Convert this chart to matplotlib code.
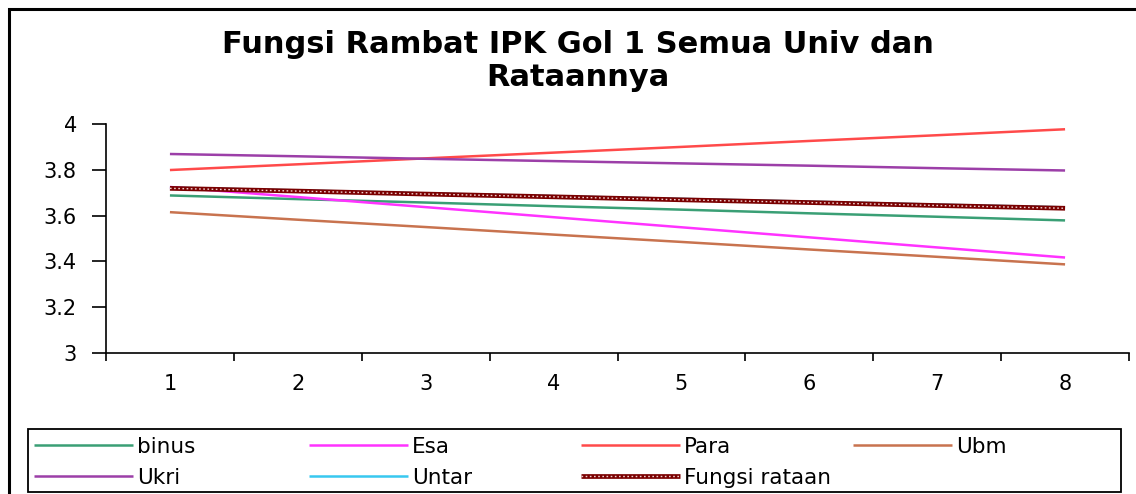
import matplotlib
matplotlib.use("Agg")
import matplotlib.pyplot as plt
from matplotlib.patches import Rectangle
from matplotlib.legend_handler import HandlerTuple

plt.rcParams['font.family'] = ['DejaVu Sans']

x = [1, 2, 3, 4, 5, 6, 7, 8]
binus = [3.688, 3.672, 3.657, 3.641, 3.626, 3.610, 3.595, 3.579]
esa = [3.725, 3.681, 3.637, 3.593, 3.549, 3.505, 3.461, 3.417]
para = [3.799, 3.824, 3.850, 3.875, 3.900, 3.926, 3.951, 3.977]
ubm = [3.615, 3.582, 3.550, 3.517, 3.485, 3.452, 3.420, 3.387]
ukri = [3.869, 3.859, 3.848, 3.838, 3.828, 3.818, 3.807, 3.797]
untar = [3.722, 3.710, 3.697, 3.685, 3.673, 3.661, 3.648, 3.636]
rataan = [3.719, 3.707, 3.694, 3.682, 3.669, 3.657, 3.644, 3.632]
yticks = [3, 3.2, 3.4, 3.6, 3.8, 4]
ytick_labels = ["3", "3.2", "3.4", "3.6", "3.8", "4"]
title = "Fungsi Rambat IPK Gol 1 Semua Univ dan\nRataannya"

W, H = 1136, 494
fig = plt.figure(figsize=(W / 100, H / 100), dpi=100)
ax = fig.add_axes([106 / W, 1 - 353 / H, (1129 - 106) / W, (353 - 124) / H])

colors = {"binus": "#3a9f75", "Esa": "#ff33ff", "Para": "#ff4a4a",
          "Ubm": "#c8734f", "Ukri": "#9c3fa8", "Untar": "#38c8f0"}
data = {"binus": binus, "Esa": esa, "Para": para, "Ubm": ubm,
        "Ukri": ukri, "Untar": untar}
handles = {}
for name in ["Untar", "binus", "Esa", "Para", "Ubm", "Ukri"]:
    ln, = ax.plot(x, data[name], color=colors[name], lw=1.8, solid_capstyle='butt')
    handles[name] = ln

r1, = ax.plot(x, rataan, color="#7a0000", lw=3.4, solid_capstyle='butt')
r2, = ax.plot(x, rataan, color="#f0d0d0", lw=1.0, linestyle=(0, (1.2, 1.8)))
handles["Fungsi rataan"] = (r1, r2)

ax.set_xlim(0.5, 8.5)
ax.set_ylim(3, 4)
ax.set_yticks(yticks)
ax.set_yticklabels(ytick_labels)
ax.set_xticks([i + 0.5 for i in range(0, 9)])
ax.set_xticklabels([])
ax.set_xticks(x, minor=True)
ax.set_xticklabels([str(v) for v in x], minor=True)
ax.tick_params(axis='x', which='major', length=6, width=1.2, direction='out')
ax.tick_params(axis='x', which='minor', length=0, pad=15, labelsize=15)
ax.tick_params(axis='y', length=10, width=1.2, direction='out', pad=11, labelsize=15)
for s in ['top', 'right']:
    ax.spines[s].set_visible(False)
for s in ['left', 'bottom']:
    ax.spines[s].set_linewidth(1.2)

fig.text(578 / W, 1 - 61 / H, title, ha='center', va='center',
         fontsize=22, fontweight='bold', linespacing=1.2)

# outer frame
fig.patches.append(Rectangle((9 / W, -0.01), 1.02, 1 - 9 / H + 0.01, transform=fig.transFigure,
                             fill=False, edgecolor='black', lw=2.2))
# legend box
fig.patches.append(Rectangle((28 / W, 1 - 492 / H), (1121 - 28) / W, (492 - 429) / H,
                             transform=fig.transFigure, fill=False, edgecolor='black', lw=1.3))

legend_cols = [["binus", "Ukri"], ["Esa", "Untar"], ["Para", "Fungsi rataan"], ["Ubm"]]
col_x = [34, 309, 581, 853]
for names, cx in zip(legend_cols, col_x):
    fig.legend([handles[n] for n in names], names, loc='upper left',
               bbox_to_anchor=(cx / W, 1 - 437 / H), ncol=1,
               fontsize=15.5, frameon=False, handlelength=4.6, handletextpad=0.2,
               borderaxespad=0, borderpad=0, labelspacing=0.5,
               handler_map={tuple: HandlerTuple(ndivide=1, pad=0)})

fig.savefig("out.png", dpi=100)
